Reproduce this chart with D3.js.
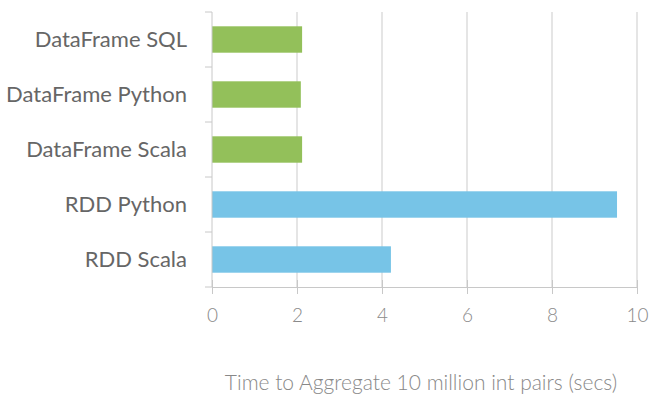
<!DOCTYPE html>
<html>
<head>
<meta charset="utf-8">
<script src="https://cdn.jsdelivr.net/npm/d3@7"></script>
<style>
  body { margin: 0; background: #fff; }
  text { font-family: Lato, sans-serif; }
</style>
</head>
<body>
<div id="chart"></div>
<script>
// daten
const categories = ["DataFrame SQL", "DataFrame Python", "DataFrame Scala", "RDD Python", "RDD Scala"];
const values = [2.12, 2.09, 2.12, 9.53, 4.21];
const kinds = ["df", "df", "df", "rdd", "rdd"];
const xTicks = [0, 2, 4, 6, 8, 10];
const xTitle = "Time to Aggregate 10 million int pairs (secs)";

const colors = { df: "#93c05a", rdd: "#77c4e7" };

const svg = d3.select("#chart").append("svg")
  .attr("width", 650)
  .attr("height", 399);

const x = d3.scaleLinear().domain([0, 10]).range([212, 637]);
const y = d3.scaleBand().domain(categories).range([12, 287]).paddingInner(0.52).paddingOuter(0.26);

// gitternetz
svg.append("g")
  .selectAll("line")
  .data(xTicks.slice(1))
  .enter().append("line")
  .attr("x1", d => x(d)).attr("x2", d => x(d))
  .attr("y1", 12).attr("y2", 287)
  .attr("stroke", "#d4d4d4")
  .attr("stroke-width", 1.2);

// balken
svg.append("g")
  .selectAll("rect")
  .data(categories)
  .enter().append("rect")
  .attr("x", x(0))
  .attr("y", d => y(d))
  .attr("width", (d, i) => x(values[i]) - x(0))
  .attr("height", y.bandwidth())
  .attr("fill", (d, i) => colors[kinds[i]]);

// x-achse
const xAxis = svg.append("g")
  .attr("transform", "translate(0,287)")
  .call(d3.axisBottom(x).tickValues(xTicks).tickSize(7).tickPadding(15));
xAxis.select(".domain").attr("stroke", "#c8c8c8");
xAxis.selectAll(".tick line").attr("stroke", "#c8c8c8").attr("y1", -7);
xAxis.selectAll(".tick text").attr("fill", "#8a8a8a").attr("font-size", 19).attr("font-family", "Lato, sans-serif").attr("font-weight", 300);

// y-achse
const yTickPos = [12].concat(categories.map(d => y(d) + y.bandwidth() + y.step() * y.paddingInner() / 2));
svg.append("line")
  .attr("x1", 212).attr("x2", 212)
  .attr("y1", 12).attr("y2", 287)
  .attr("stroke", "#c8c8c8");
svg.append("g")
  .selectAll("line")
  .data(yTickPos)
  .enter().append("line")
  .attr("x1", 205).attr("x2", 212)
  .attr("y1", d => d).attr("y2", d => d)
  .attr("stroke", "#c8c8c8");

svg.append("g")
  .selectAll("text")
  .data(categories)
  .enter().append("text")
  .attr("x", 187)
  .attr("y", d => y(d) + y.bandwidth() / 2)
  .attr("dy", "0.35em")
  .attr("text-anchor", "end")
  .attr("fill", "#666")
  .attr("font-size", 22)
  .text(d => d);

svg.append("text")
  .attr("x", 421)
  .attr("y", 383)
  .attr("dy", "0.35em")
  .attr("text-anchor", "middle")
  .attr("fill", "#888")
  .attr("font-size", 21)
  .attr("font-weight", 300)
  .text(xTitle);
</script>
</body>
</html>
